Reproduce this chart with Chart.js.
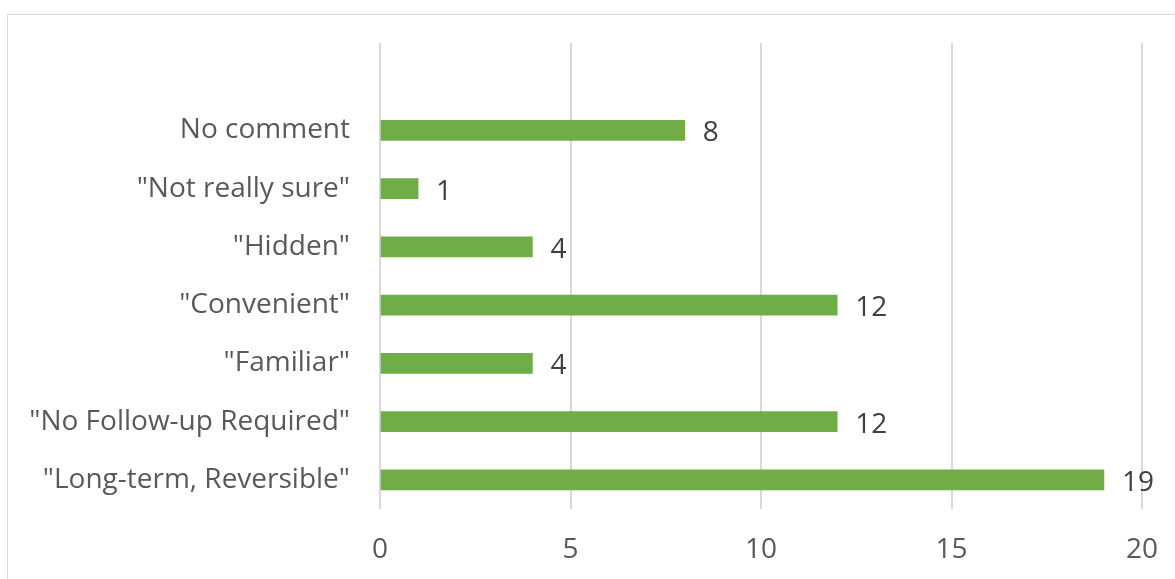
<!DOCTYPE html>
<html>
<head>
<meta charset="utf-8">
<script src="https://cdn.jsdelivr.net/npm/chart.js@4.4.1/dist/chart.umd.min.js"></script>
<style>
    body { margin: 0; background: #fff; }
    .wrap { position: relative; width: 1175px; height: 579px; overflow: hidden; }
    .frame { position: absolute; left: 7px; top: 14px; width: 1200px; height: 600px; border: 1.5px solid #d9d9d9; }
    canvas { position: absolute; left: 0; top: 0; }
</style>
</head>
<body>
<div class="wrap">
    <div class="frame"></div>
    <canvas id="chart" width="1175" height="579"></canvas>
</div>
<script>
// top to bottom, the first row is an empty slot as in the original sheet
const categories = ['', 'No comment', '"Not really sure"', '"Hidden"', '"Convenient"', '"Familiar"', '"No Follow-up Required"', '"Long-term, Reversible"'];
const counts = [null, 8, 1, 4, 12, 4, 12, 19];
const xTicks = [0, 5, 10, 15, 20];

const barColor = '#70ad47';
const gridColor = '#d9d9d9';
const fontFamily = '"Open Sans", "Noto Sans", sans-serif';

// draws the value right of each bar
const valueLabels = {
    id: 'valueLabels',
    afterDatasetsDraw(chart) {
        const ctx = chart.ctx;
        const meta = chart.getDatasetMeta(0);
        ctx.save();
        ctx.font = '28px ' + fontFamily;
        ctx.fillStyle = '#404040';
        ctx.textAlign = 'left';
        ctx.textBaseline = 'middle';
        meta.data.forEach((bar, i) => {
            if (counts[i] === null) return;
            ctx.fillText(counts[i], bar.x + 18, bar.y + 3);
        });
        ctx.restore();
    }
};

new Chart(document.getElementById('chart'), {
    type: 'bar',
    data: {
        labels: categories,
        datasets: [{
            data: counts,
            backgroundColor: barColor,
            borderWidth: 0,
            barThickness: 20
        }]
    },
    options: {
        indexAxis: 'y',
        responsive: false,
        animation: false,
        layout: { padding: { top: 43, right: 33, left: 0, bottom: 0 } },
        plugins: {
            legend: { display: false },
            tooltip: { enabled: false }
        },
        scales: {
            x: {
                min: 0,
                max: 20,
                afterBuildTicks: scale => { scale.ticks = xTicks.map(v => ({ value: v })); },
                afterFit: scale => {
                    scale.height = 70;
                    scale.paddingLeft = 0;
                    scale.paddingRight = 0;
                },
                grid: { color: gridColor, lineWidth: 2, drawTicks: false },
                border: { display: false },
                ticks: {
                    padding: 24,
                    color: '#595959',
                    font: { family: fontFamily, size: 28 }
                }
            },
            y: {
                afterFit: scale => { scale.width = 380; },
                grid: { display: false },
                border: { display: false },
                ticks: {
                    padding: 22,
                    color: '#595959',
                    font: { family: fontFamily, size: 28 }
                }
            }
        }
    },
    plugins: [valueLabels]
});
</script>
</body>
</html>
